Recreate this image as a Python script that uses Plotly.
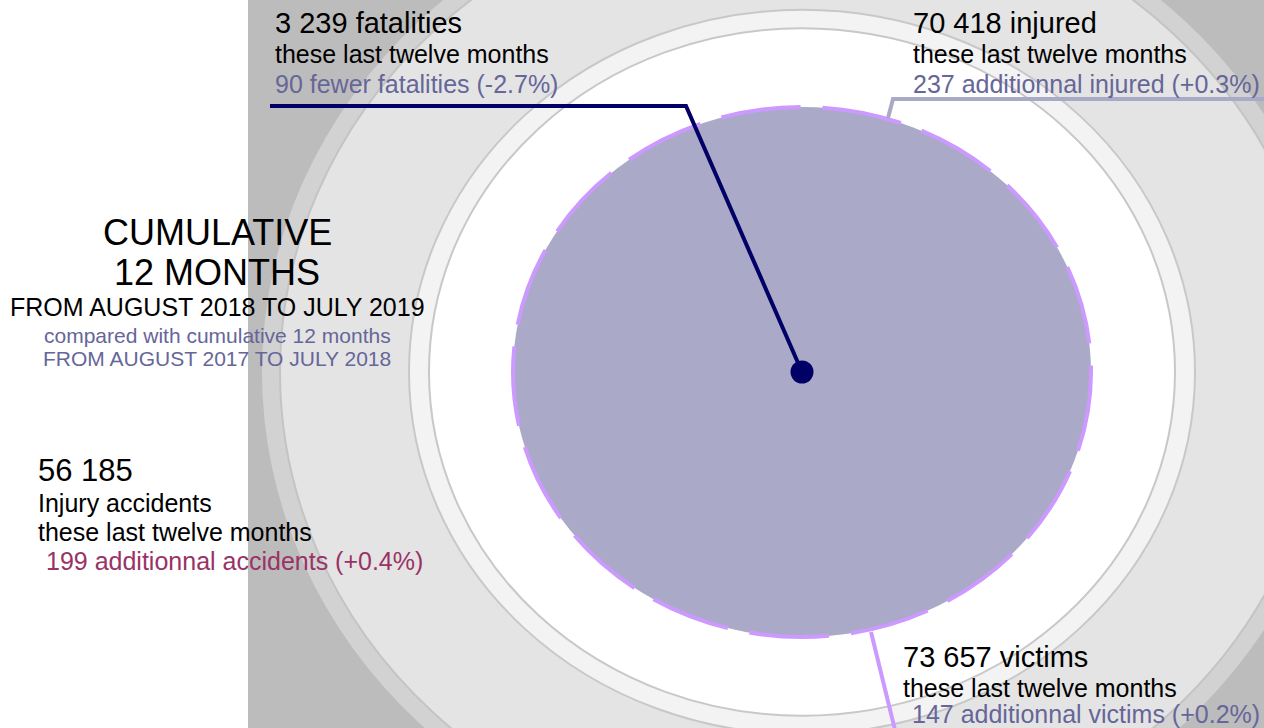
import plotly.graph_objects as go

# ---------------- data ----------------
metrics = ["fatalities", "injured", "victims", "accidents"]
values = [3239, 70418, 73657, 56185]
changes = [-90, 237, 147, 199]
change_pct = [-2.7, 0.3, 0.2, 0.4]
period_label = ["CUMULATIVE", "12 MONTHS"]
period_current = "FROM AUGUST 2018 TO JULY 2019"
period_compare = ["compared with cumulative 12 months", "FROM AUGUST 2017 TO JULY 2018"]
sub_label = "these last twelve months"


def fmt(n):
    return f"{n:,}".replace(",", " ")


def change_text(delta, pct, noun):
    word = "fewer" if delta < 0 else "additionnal"
    return f"{abs(delta)} {word} {noun} ({pct:+.1f}%)"


# ---------------- layout constants (pixel space) ----------------
W, H = 1264, 728
CX, CY = 802, 372
ASPECT = 1.085
FONT = "Liberation Sans, Arial, sans-serif"
BLACK = "#000000"
SOFT = "#666699"
WINE = "#993366"
NAVY = "#000066"
LILAC = "#cc99ff"
GREYBLUE = "#aaaac8"

shapes = []


def ellipse(rx, ry, fill, line_color=None, line_width=0, dash="solid"):
    shapes.append(dict(
        type="circle", xref="x", yref="y", layer="below",
        x0=CX - rx, x1=CX + rx, y0=CY - ry, y1=CY + ry,
        fillcolor=fill,
        line=dict(color=line_color or fill, width=line_width, dash=dash),
    ))


# grey panel on the right
shapes.append(dict(type="rect", xref="x", yref="y", layer="below",
                   x0=248, x1=W, y0=0, y1=H, fillcolor="#bcbcbc", line=dict(width=0)))
ellipse(540, 540 / ASPECT, "#d2d2d2")
ellipse(522, 522 / ASPECT, "#e4e4e4", "#c4c4c4", 2)
ellipse(393, 393 / ASPECT, "#f3f3f3", "#c8c8c8", 2)
ellipse(373, 373 / ASPECT, "#ffffff", "#c8c8c8", 2)
ellipse(289, 265, GREYBLUE, LILAC, 4, "80px,22px")

fig = go.Figure()

# leader lines
fig.add_trace(go.Scatter(x=[270, 686, CX], y=[106, 106, CY], mode="lines",
                         line=dict(color=NAVY, width=4), hoverinfo="skip"))
fig.add_trace(go.Scatter(x=[W, 893, 888], y=[99, 99, 118], mode="lines",
                         line=dict(color=GREYBLUE, width=4), hoverinfo="skip"))
fig.add_trace(go.Scatter(x=[871, 895], y=[632, 730], mode="lines",
                         line=dict(color=LILAC, width=4), hoverinfo="skip"))
# centre dot
fig.add_trace(go.Scatter(x=[CX], y=[CY], mode="markers",
                         marker=dict(color=NAVY, size=23, line=dict(width=0)),
                         hoverinfo="skip"))

annotations = []


def label(x, y, text, size, color=BLACK, anchor="left"):
    annotations.append(dict(
        x=x, y=y, xref="x", yref="y", text=text, showarrow=False,
        xanchor=anchor, yanchor="middle",
        font=dict(family=FONT, size=size, color=color),
    ))


# fatalities
label(273, 23, f"{fmt(values[0])} {metrics[0]}", 29)
label(273, 54, sub_label, 25)
label(273, 84, change_text(changes[0], change_pct[0], metrics[0]), 25, SOFT)
# injured
label(911, 23, f"{fmt(values[1])} {metrics[1]}", 29)
label(911, 54, sub_label, 25)
label(911, 84, change_text(changes[1], change_pct[1], metrics[1]), 25, SOFT)
# victims
label(901, 657, f"{fmt(values[2])} {metrics[2]}", 29)
label(901, 688, sub_label, 25)
label(910, 714, change_text(changes[2], change_pct[2], metrics[2]), 25, SOFT)
# accidents
label(36, 470, fmt(values[3]), 31)
label(36, 503, "Injury accidents", 25)
label(36, 532, sub_label, 25)
label(44, 561, change_text(changes[3], change_pct[3], metrics[3]), 25, WINE)
# period block
label(217, 232, period_label[0], 36, anchor="center")
label(217, 272, period_label[1], 36, anchor="center")
label(217, 307, period_current, 25, anchor="center")
label(217, 335, period_compare[0], 21, SOFT, anchor="center")
label(217, 358, period_compare[1], 21, SOFT, anchor="center")

fig.update_layout(
    width=W, height=H,
    margin=dict(l=0, r=0, t=0, b=0),
    paper_bgcolor="#ffffff", plot_bgcolor="#ffffff",
    showlegend=False,
    xaxis=dict(range=[0, W], visible=False, fixedrange=True),
    yaxis=dict(range=[H, 0], visible=False, fixedrange=True),
    shapes=shapes,
    annotations=annotations,
)

fig.write_html("out.html", config={"displayModeBar": False},
               post_script="document.body.style.margin='0';")
